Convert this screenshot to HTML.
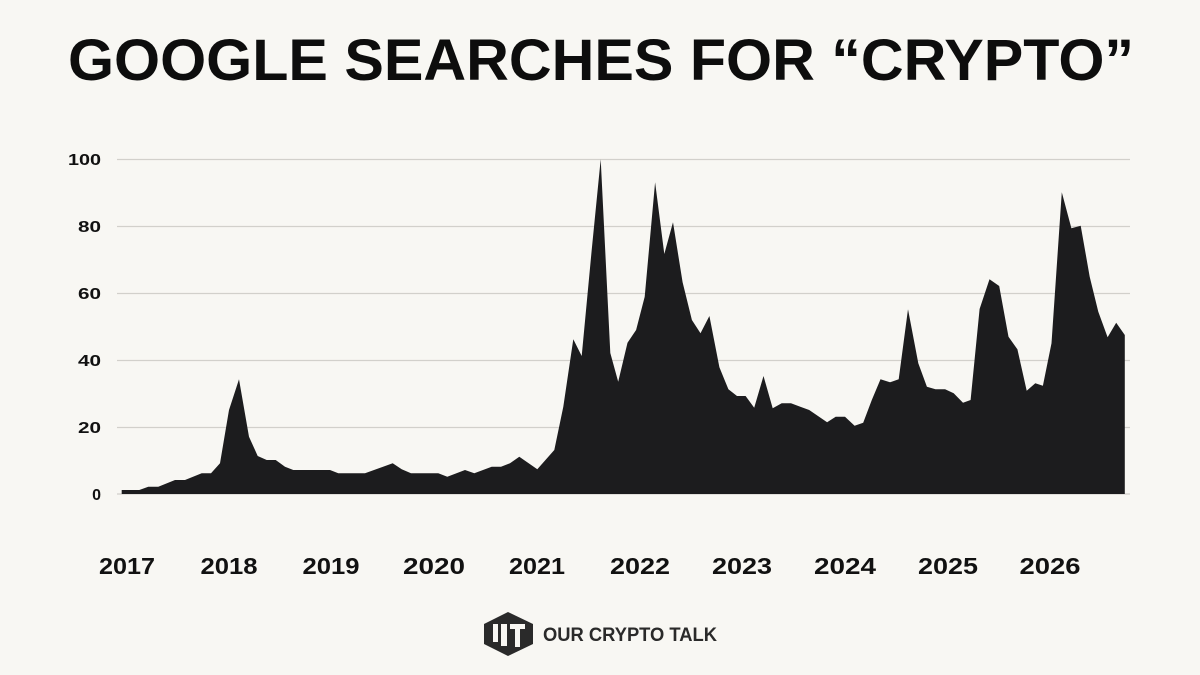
<!DOCTYPE html>
<html><head><meta charset="utf-8"><style>
html,body{margin:0;padding:0;background:#f8f7f3;}
svg{display:block;}
</style></head><body>
<svg width="1200" height="675" viewBox="0 0 1200 675" xmlns="http://www.w3.org/2000/svg">
<rect width="1200" height="675" fill="#f8f7f3"/>
<text x="601" y="80" text-anchor="middle" font-family="Liberation Sans, sans-serif" font-weight="bold" font-size="58" fill="#0d0d0d" textLength="1066" lengthAdjust="spacingAndGlyphs">GOOGLE SEARCHES FOR “CRYPTO”</text>
<g stroke="#d2d0cb" stroke-width="1.2">
<line x1="117" y1="159.5" x2="1130" y2="159.5"/>
<line x1="117" y1="226.5" x2="1130" y2="226.5"/>
<line x1="117" y1="293.5" x2="1130" y2="293.5"/>
<line x1="117" y1="360.5" x2="1130" y2="360.5"/>
<line x1="117" y1="427.5" x2="1130" y2="427.5"/>
<line x1="117" y1="494" x2="1130" y2="494"/>
</g>
<g font-family="Liberation Sans, sans-serif" font-weight="bold" font-size="16" fill="#111" text-anchor="end">
<text x="101" y="165" textLength="33" lengthAdjust="spacingAndGlyphs">100</text>
<text x="101" y="232" textLength="23" lengthAdjust="spacingAndGlyphs">80</text>
<text x="101" y="299" textLength="23" lengthAdjust="spacingAndGlyphs">60</text>
<text x="101" y="366" textLength="23" lengthAdjust="spacingAndGlyphs">40</text>
<text x="101" y="433" textLength="23" lengthAdjust="spacingAndGlyphs">20</text>
<text x="101" y="500">0</text>
</g>
<path fill="#1c1c1e" d="M121.7,494 L121.7,490 L139.3,490 L148.3,486.7 L158.3,486.7 L175,480 L185,480 L201.7,473.3 L211,473.3 L220,463.3 L229,410 L239,379.3 L249,436.7 L257.7,456 L266.7,460 L275.7,460 L285,466.7 L293.3,470 L330,470 L338.3,473.3 L365,473.3 L392.7,463.3 L401.7,469.3 L411,473.3 L438.3,473.3 L447.3,476.7 L465,470 L474.3,473.3 L491.7,466.7 L501,466.7 L510,463.3 L519.3,456.7 L537.3,469.3 L554.3,450 L563.3,406.7 L573.3,339.3 L581.7,356 L591.7,250 L600.7,159.3 L610.3,353 L618.2,381.7 L627.5,342.7 L636.1,330 L644.7,296.7 L655.1,182.3 L664.3,254 L673,222.3 L682.6,282.3 L691.9,320 L700.5,333.3 L709.4,316 L719.4,367.3 L728.4,389.3 L737,396 L745.6,396 L754.2,407.7 L763.5,376 L772.7,408.3 L781.7,403.3 L791,403.3 L800.3,406.7 L809.2,410 L827.1,422.3 L835.7,416.7 L845,416.7 L854.6,425.7 L863.2,422.7 L871.8,400 L880.5,379.3 L890.1,382.3 L898.7,379.3 L908,309.3 L918.3,363.3 L926.9,386.7 L935.5,389.3 L945.1,389.3 L953.7,393.3 L963,402.7 L970.6,400 L979.6,309 L989.5,279.3 L999.2,286 L1008.5,336.7 L1017.4,349.3 L1026.7,390.7 L1035.3,383.3 L1042.9,385.7 L1051.5,343.3 L1061.8,192.3 L1071.4,228.3 L1080.7,225.7 L1089.7,276.7 L1098.3,311.7 L1107.6,337.3 L1116.2,322.7 L1124.8,335 L1124.8,494 Z"/>
<g font-family="Liberation Sans, sans-serif" font-weight="bold" font-size="23" fill="#111" text-anchor="middle">
<text x="127" y="574" textLength="56" lengthAdjust="spacingAndGlyphs">2017</text>
<text x="229" y="574" textLength="57" lengthAdjust="spacingAndGlyphs">2018</text>
<text x="331" y="574" textLength="57" lengthAdjust="spacingAndGlyphs">2019</text>
<text x="434" y="574" textLength="62" lengthAdjust="spacingAndGlyphs">2020</text>
<text x="537" y="574" textLength="56" lengthAdjust="spacingAndGlyphs">2021</text>
<text x="640" y="574" textLength="60" lengthAdjust="spacingAndGlyphs">2022</text>
<text x="742" y="574" textLength="60" lengthAdjust="spacingAndGlyphs">2023</text>
<text x="845" y="574" textLength="62" lengthAdjust="spacingAndGlyphs">2024</text>
<text x="948" y="574" textLength="60" lengthAdjust="spacingAndGlyphs">2025</text>
<text x="1050" y="574" textLength="61" lengthAdjust="spacingAndGlyphs">2026</text>
</g>
<g fill="#2a2a2a">
<polygon points="508,612 533,624 533,644 508,656 484,644 484,624"/>
</g>
<g fill="#f8f7f3">
<rect x="493" y="624" width="5" height="18"/>
<rect x="501" y="624" width="6" height="22"/>
<rect x="510" y="624" width="15" height="5"/>
<rect x="515" y="629" width="5" height="18"/>
</g>
<text x="543" y="641" font-family="Liberation Sans, sans-serif" font-weight="bold" font-size="19" fill="#2a2a2a" textLength="174" lengthAdjust="spacingAndGlyphs">OUR CRYPTO TALK</text>
</svg>
</body></html>
